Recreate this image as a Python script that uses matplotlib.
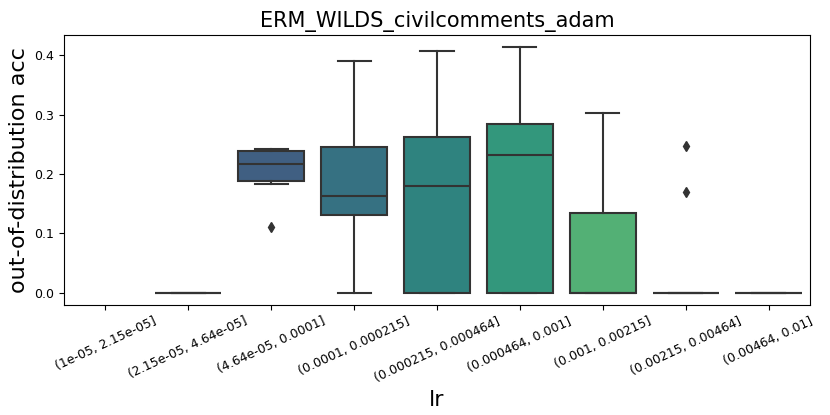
import matplotlib
matplotlib.use("Agg")
import matplotlib.pyplot as plt
import seaborn as sns
import numpy as np

categories = ["(1e-05, 2.15e-05]", "(2.15e-05, 4.64e-05]", "(4.64e-05, 0.0001]",
              "(0.0001, 0.000215]", "(0.000215, 0.000464]", "(0.000464, 0.001]",
              "(0.001, 0.00215]", "(0.00215, 0.00464]", "(0.00464, 0.01]"]
# box statistics per category (None = no data)
q1      = [None, 0.0, 0.188, 0.1305, 0.0,    0.0,   0.0,    0.0, 0.0]
median  = [None, 0.0, 0.217, 0.1625, 0.1794, 0.232, 0.0,    0.0, 0.0]
q3      = [None, 0.0, 0.239, 0.2457, 0.262,  0.285, 0.134,  0.0, 0.0]
whislo  = [None, 0.0, 0.183, 0.0,    0.0,    0.0,   0.0,    0.0, 0.0]
whishi  = [None, 0.0, 0.243, 0.390,  0.4076, 0.4138, 0.3025, 0.0, 0.0]
fliers  = [[], [], [0.111], [], [], [], [], [0.247, 0.170], []]

pal = sns.color_palette("viridis", len(categories))
pal = [sns.desaturate(c, 0.75) for c in pal]

fig = plt.figure(figsize=(8.3, 4.15), dpi=100)
ax = fig.add_axes([64/830, 1-305/415, (810-64)/830, (305-35)/415])

gray = "#333333"
for i in range(len(categories)):
    if median[i] is None:
        continue
    st = dict(med=median[i], q1=q1[i], q3=q3[i], whislo=whislo[i], whishi=whishi[i],
              fliers=fliers[i])
    ax.bxp([st], positions=[i], widths=0.8, patch_artist=True, showfliers=True,
           boxprops=dict(facecolor=pal[i], edgecolor=gray, linewidth=1.5),
           medianprops=dict(color=gray, linewidth=1.5),
           whiskerprops=dict(color=gray, linewidth=1.5),
           capprops=dict(color=gray, linewidth=1.5),
           flierprops=dict(marker="d", markerfacecolor=gray, markeredgecolor=gray,
                           markersize=5, linestyle="none"),
           capwidths=0.4, manage_ticks=False)

ax.set_xlim(-0.5, len(categories) - 0.5)
ax.set_ylim(-0.0207, 0.4345)
ax.set_xticks(range(len(categories)))
ax.set_xticklabels(categories, rotation=25, fontsize=9)
ax.set_yticks([0.0, 0.1, 0.2, 0.3, 0.4])
ax.set_yticklabels(["0.0", "0.1", "0.2", "0.3", "0.4"], fontsize=9)
ax.set_xlabel("lr", fontsize=16)
ax.set_ylabel("out-of-distribution acc", fontsize=16)
ax.set_title("ERM_WILDS_civilcomments_adam", fontsize=15)

fig.savefig("out.png", dpi=100)
